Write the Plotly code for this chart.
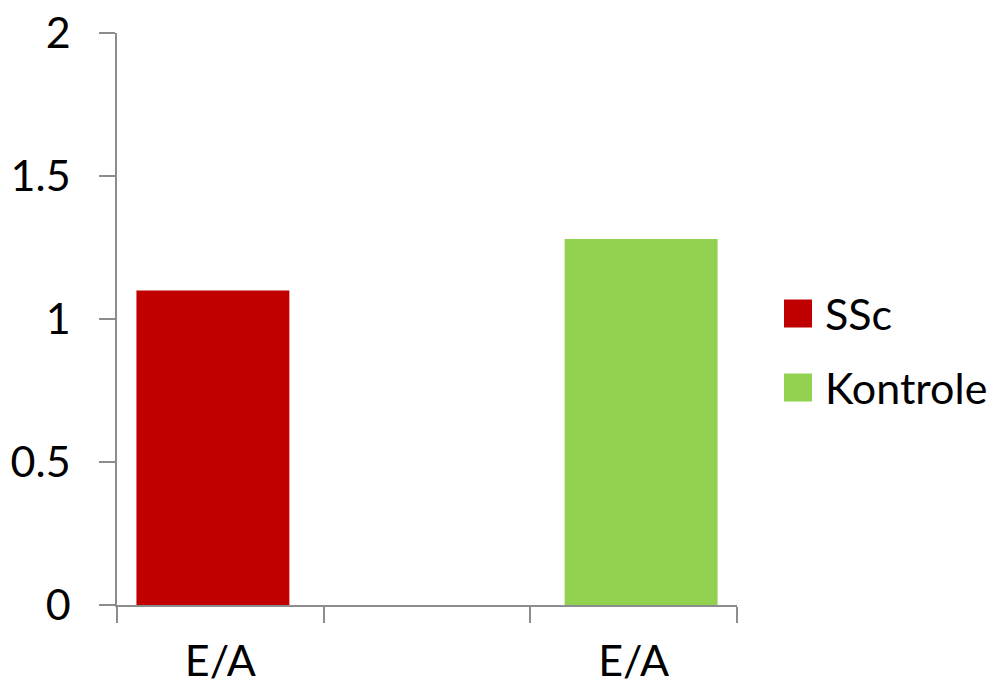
import plotly.graph_objects as go

# Category slots on the x axis (the middle slot is left empty)
slots = ["E/A", "", "E/A"]
series_names = ["SSc", "Kontrole"]
ssc_values = [1.10, None, None]
kontrole_values = [None, None, 1.28]
series_colors = ["#C00000", "#92D050"]
y_ticks = [0, 0.5, 1, 1.5, 2]
y_ticktext = ["0", "0.5", "1", "1.5", "2"]

FONT = "Lato, 'Open Sans', sans-serif"
AXIS_GRAY = "#8c8c8c"
BAR_WIDTH = 0.74

x_idx = list(range(len(slots)))

fig = go.Figure()
fig.add_trace(go.Bar(
    x=x_idx, y=ssc_values, name=series_names[0],
    marker=dict(color=series_colors[0], line=dict(width=0)),
    width=BAR_WIDTH, offset=-BAR_WIDTH / 2 - 0.036,
))
fig.add_trace(go.Bar(
    x=x_idx, y=kontrole_values, name=series_names[1],
    marker=dict(color=series_colors[1], line=dict(width=0)),
    width=BAR_WIDTH, offset=-BAR_WIDTH / 2 + 0.036,
))

# category labels centered in their slots, tick marks on the slot boundaries
label_vals = [i for i, s in enumerate(slots) if s]
label_text = [s for s in slots if s]
boundaries = [i - 0.5 for i in range(len(slots) + 1)]

fig.update_layout(
    width=994, height=687,
    margin=dict(l=117, r=257, t=33, b=82),
    paper_bgcolor="white", plot_bgcolor="white",
    showlegend=False,
    barmode="overlay",
    font=dict(family=FONT, color="black", size=43),
    xaxis=dict(
        range=[-0.5, len(slots) - 0.5], automargin=False,
        tickmode="array", tickvals=label_vals, ticktext=label_text,
        ticks="", showgrid=False, zeroline=False,
        showline=True, linecolor=AXIS_GRAY, linewidth=1.5,
        ticklabelstandoff=18,
        tickfont=dict(size=43, family=FONT),
        minor=dict(tickmode="array", tickvals=boundaries, ticks="outside",
                   ticklen=16, tickcolor=AXIS_GRAY, tickwidth=1.5, showgrid=False),
    ),
    yaxis=dict(
        range=[0, 2], automargin=False,
        tickmode="array", tickvals=y_ticks, ticktext=y_ticktext,
        ticks="outside", ticklen=16, tickcolor=AXIS_GRAY, tickwidth=1.5,
        showgrid=False, zeroline=False,
        showline=True, linecolor=AXIS_GRAY, linewidth=1.5,
        ticklabelstandoff=20,
        tickfont=dict(size=43, family=FONT),
    ),
)

# legend: colored squares with series names to the right of the plot
legend_y = [0.5096, 0.3802]
for name, color, ly in zip(series_names, series_colors, legend_y):
    fig.add_shape(
        type="rect", xref="paper", yref="paper",
        xsizemode="pixel", ysizemode="pixel",
        xanchor=1, yanchor=ly,
        x0=47, x1=75, y0=-14, y1=14,
        fillcolor=color, line=dict(width=0),
    )
    fig.add_annotation(
        x=1, y=ly, xref="paper", yref="paper",
        xanchor="left", yanchor="middle", xshift=86,
        text=name, showarrow=False,
        font=dict(size=43, family=FONT, color="black"),
    )

fig.write_html("out.html")
